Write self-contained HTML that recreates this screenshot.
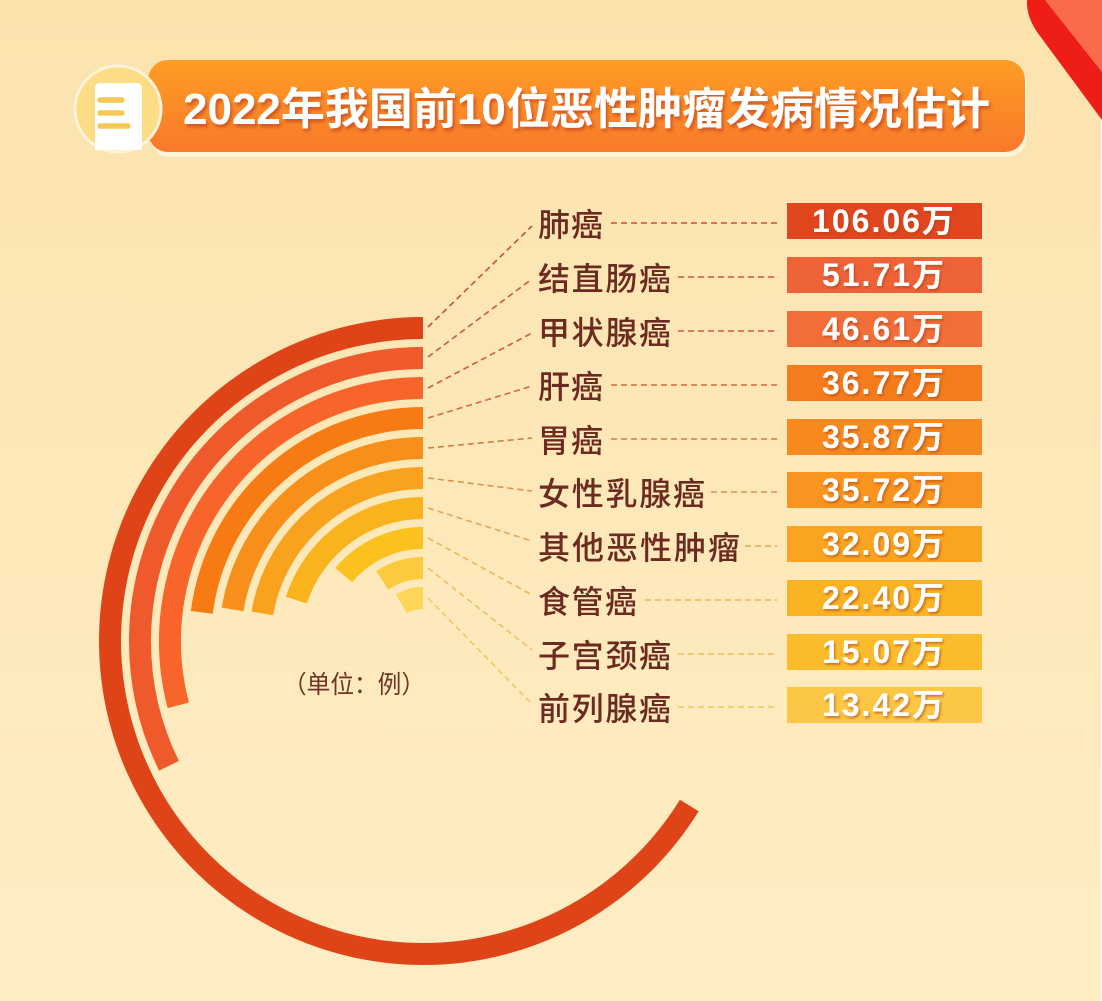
<!DOCTYPE html>
<html>
<head>
<meta charset="utf-8">
<style>
html,body{margin:0;padding:0;background:#fde9bb;}
body{width:1102px;height:1001px;overflow:hidden;}
svg{display:block;}
.lab{font-family:"Liberation Sans","Noto Sans CJK SC",sans-serif;font-size:32px;fill:#6c2b20;font-weight:500;}
.val{font-family:"Liberation Sans","Noto Sans CJK SC",sans-serif;font-size:32px;font-weight:700;fill:#ffffff;letter-spacing:2px;}
</style>
</head>
<body>
<svg width="1102" height="1001" viewBox="0 0 1102 1001" xmlns="http://www.w3.org/2000/svg">
<defs>
<linearGradient id="bg" x1="0" y1="0" x2="0" y2="1">
<stop offset="0" stop-color="#fce3ae"/>
<stop offset="1" stop-color="#feedc4"/>
</linearGradient>
<linearGradient id="bar" x1="0" y1="0" x2="0" y2="1">
<stop offset="0" stop-color="#fd9e24"/>
<stop offset="1" stop-color="#f9792b"/>
</linearGradient>
<filter id="ts" x="-10%" y="-30%" width="120%" height="160%">
<feDropShadow dx="2" dy="3" stdDeviation="1.5" flood-color="#c9501a" flood-opacity="0.85"/>
</filter>
<filter id="vs" x="-10%" y="-30%" width="120%" height="160%">
<feDropShadow dx="1.5" dy="2" stdDeviation="1" flood-color="#a8400f" flood-opacity="0.55"/>
</filter>
</defs>

<rect x="0" y="0" width="1102" height="1001" fill="url(#bg)"/>
<rect x="1101" y="0" width="1" height="1001" fill="#ffffff"/>

<!-- top-right ribbon -->
<polygon points="1045,0 1102,0 1102,72" fill="#fc6a4c"/>
<path d="M1027,0 L1045,0 L1102,72 L1102,120 L1040,36 Q1026,18 1027,0 Z" fill="#ee1d16"/>

<!-- title bar -->
<rect x="150" y="64" width="877" height="93" rx="20" fill="#fff4dc" opacity="0.9"/>
<rect x="148" y="60" width="877" height="92" rx="20" fill="url(#bar)"/>
<circle cx="118" cy="109" r="43" fill="#fddc86" stroke="#fff3d8" stroke-width="3"/>
<path d="M100,83 L136,83 Q142,83 142,89 L142,150 L95,150 L95,88 Q95,83 100,83 Z" fill="#ffffff"/>
<g stroke="#f6c955" stroke-width="5.5" stroke-linecap="round">
<line x1="100" y1="100" x2="122" y2="100"/>
<line x1="100" y1="113" x2="122" y2="113"/>
<line x1="100" y1="126" x2="128" y2="126"/>
</g>
<text x="183" y="124" textLength="807" lengthAdjust="spacingAndGlyphs" filter="url(#ts)" style="font-family:'Liberation Sans','Noto Sans CJK SC',sans-serif;font-size:44px;font-weight:700;fill:#ffffff;">2022年我国前10位恶性肿瘤发病情况估计</text>

<!-- rings -->
<g fill="none" stroke-width="22" stroke-linecap="butt">
<path d="M423,328 A313,313 0 1 0 689.3,805.5" stroke="#df4418"/>
<path d="M423,358 A283,283 0 0 0 169.0,765.8" stroke="#ef5a2c"/>
<path d="M423,388 A253,253 0 0 0 178.3,705.3" stroke="#f8652a"/>
<path d="M423,418 A223,223 0 0 0 201.8,612.4" stroke="#f77a12"/>
<path d="M423,448 A193,193 0 0 0 232.6,609.4" stroke="#f78f1a"/>
<path d="M423,478 A163,163 0 0 0 262.3,613.4" stroke="#f8a21d"/>
<path d="M423,508 A133,133 0 0 0 296.4,600.1" stroke="#f9b31d"/>
<path d="M423,538 A103,103 0 0 0 343.7,575.2" stroke="#fbc21f"/>
<path d="M423,568 A73,73 0 0 0 382.3,580.4" stroke="#fbcb3d"/>
<path d="M423,598 A43,43 0 0 0 401.4,603.8" stroke="#fcd659"/>
</g>

<!-- diagonal dashed connectors -->
<g fill="none" stroke-width="1.6" stroke-dasharray="6 4">
<line x1="428" y1="327" x2="532" y2="226" stroke="#c9503a"/>
<line x1="428" y1="357" x2="532" y2="279" stroke="#cb553b"/>
<line x1="428" y1="388" x2="532" y2="333" stroke="#cd5a3c"/>
<line x1="428" y1="418" x2="532" y2="386" stroke="#d2683e"/>
<line x1="428" y1="448" x2="532" y2="438" stroke="#d77a3e"/>
<line x1="428" y1="478" x2="532" y2="491" stroke="#de924a"/>
<line x1="428" y1="508" x2="532" y2="541" stroke="#e4a752"/>
<line x1="428" y1="538" x2="532" y2="595" stroke="#e9b955"/>
<line x1="428" y1="568" x2="532" y2="650" stroke="#ecc258"/>
<line x1="428" y1="598" x2="532" y2="704" stroke="#efc95e"/>
</g>

<!-- horizontal dashed connectors -->
<g fill="none" stroke-width="1.6" stroke-dasharray="6 4">
<line x1="611" y1="223" x2="777" y2="223" stroke="#c9503a"/>
<line x1="678" y1="277" x2="777" y2="277" stroke="#cb553b"/>
<line x1="678" y1="331" x2="777" y2="331" stroke="#cd5a3c"/>
<line x1="611" y1="385" x2="777" y2="385" stroke="#d2683e"/>
<line x1="611" y1="439" x2="777" y2="439" stroke="#d77a3e"/>
<line x1="711" y1="492" x2="777" y2="492" stroke="#de924a"/>
<line x1="745" y1="546" x2="777" y2="546" stroke="#e4a752"/>
<line x1="645" y1="600" x2="777" y2="600" stroke="#e9b955"/>
<line x1="678" y1="654" x2="777" y2="654" stroke="#ecc258"/>
<line x1="678" y1="707" x2="777" y2="707" stroke="#efc95e"/>
</g>

<!-- labels -->
<text class="lab" x="538" y="236" textLength="65" lengthAdjust="spacing">肺癌</text>
<text class="lab" x="538" y="290" textLength="133" lengthAdjust="spacing">结直肠癌</text>
<text class="lab" x="538" y="344" textLength="133" lengthAdjust="spacing">甲状腺癌</text>
<text class="lab" x="538" y="398" textLength="65" lengthAdjust="spacing">肝癌</text>
<text class="lab" x="538" y="452" textLength="65" lengthAdjust="spacing">胃癌</text>
<text class="lab" x="538" y="505" textLength="167" lengthAdjust="spacing">女性乳腺癌</text>
<text class="lab" x="538" y="559" textLength="202" lengthAdjust="spacing">其他恶性肿瘤</text>
<text class="lab" x="538" y="613" textLength="99" lengthAdjust="spacing">食管癌</text>
<text class="lab" x="538" y="667" textLength="133" lengthAdjust="spacing">子宫颈癌</text>
<text class="lab" x="538" y="720" textLength="133" lengthAdjust="spacing">前列腺癌</text>

<!-- value boxes -->
<rect x="787" y="203" width="195" height="36" fill="#e1461e"/>
<rect x="787" y="257" width="195" height="36" fill="#ee6238"/>
<rect x="787" y="311" width="195" height="36" fill="#f26d38"/>
<rect x="787" y="365" width="195" height="36" fill="#f57c1c"/>
<rect x="787" y="419" width="195" height="36" fill="#f7891e"/>
<rect x="787" y="472" width="195" height="36" fill="#f8941f"/>
<rect x="787" y="526" width="195" height="36" fill="#f9a521"/>
<rect x="787" y="580" width="195" height="36" fill="#fab323"/>
<rect x="787" y="634" width="195" height="36" fill="#fbbc2c"/>
<rect x="787" y="687" width="195" height="36" fill="#fbc744"/>

<g filter="url(#vs)" text-anchor="middle">
<text class="val" x="884" y="232">106.06万</text>
<text class="val" x="884" y="286">51.71万</text>
<text class="val" x="884" y="340">46.61万</text>
<text class="val" x="884" y="394">36.77万</text>
<text class="val" x="884" y="448">35.87万</text>
<text class="val" x="884" y="501">35.72万</text>
<text class="val" x="884" y="555">32.09万</text>
<text class="val" x="884" y="609">22.40万</text>
<text class="val" x="884" y="663">15.07万</text>
<text class="val" x="884" y="716">13.42万</text>
</g>

<!-- unit -->
<text x="283" y="693" textLength="142" lengthAdjust="spacingAndGlyphs" style="font-family:'Liberation Sans','Noto Sans CJK SC',sans-serif;font-size:25px;fill:#6e3526;">（单位：例）</text>
</svg>
</body>
</html>
